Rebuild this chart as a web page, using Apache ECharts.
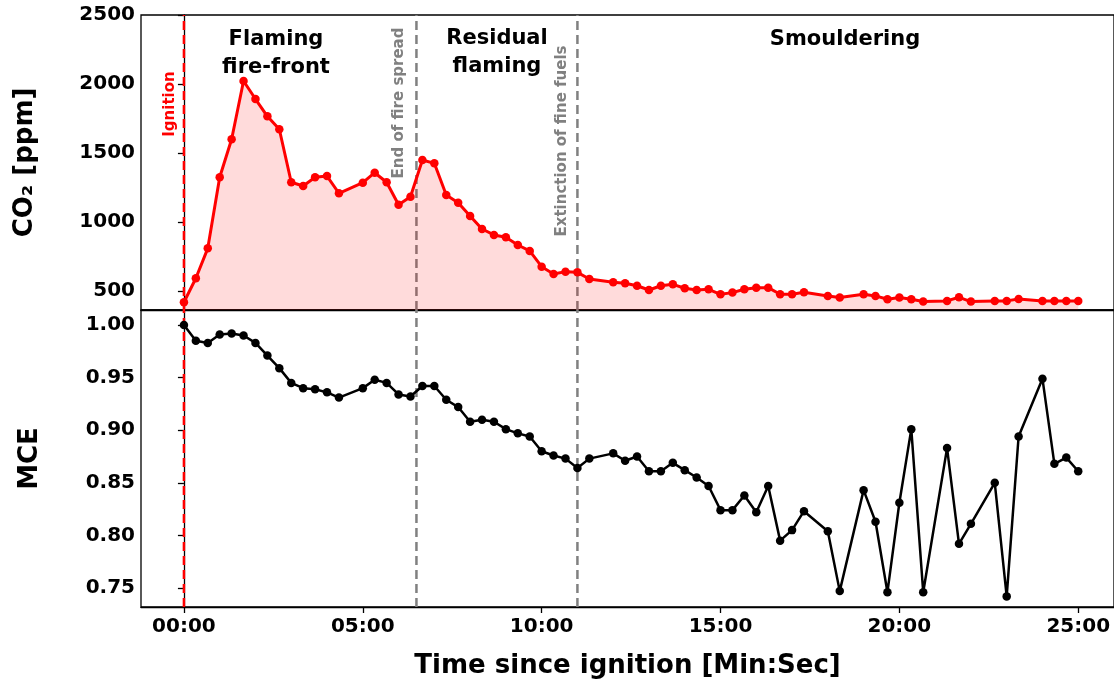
<!DOCTYPE html>
<html>
<head>
<meta charset="utf-8">
<script src="https://cdn.jsdelivr.net/npm/echarts@6/dist/echarts.min.js"></script>
<style>
html, body { margin: 0; padding: 0; background: #fff; }
#chart { width: 1114px; height: 680px; }
</style>
</head>
<body>
<div id="chart"></div>
<script>
// time since ignition, seconds
var timeSec = [0, 20, 40, 60, 80, 100, 120, 140, 160, 180, 200, 220, 240, 260, 300, 320, 340, 360, 380, 400,
    420, 440, 460, 480, 500, 520, 540, 560, 580, 600, 620, 640, 660, 680, 720, 740, 760, 780, 800, 820,
    840, 860, 880, 900, 920, 940, 960, 980, 1000, 1020, 1040, 1080, 1100, 1140, 1160, 1180, 1200, 1220, 1240, 1280,
    1300, 1320, 1360, 1380, 1400, 1440, 1460, 1480, 1500];
var co2 = [418, 592, 809, 1324, 1599, 2022, 1891, 1766, 1672, 1288, 1261, 1324, 1333, 1208, 1285, 1357, 1288, 1125, 1183, 1449,
    1425, 1196, 1140, 1043, 949, 906, 889, 833, 790, 676, 623, 640, 635, 587, 563, 556, 538, 507, 538, 548,
    520, 507, 512, 476, 488, 512, 524, 524, 476, 476, 490, 464, 452, 476, 464, 440, 452, 440, 423, 428,
    454, 423, 428, 428, 442, 428, 428, 428, 428];
var mce = [1.000, 0.985, 0.983, 0.991, 0.992, 0.990, 0.983, 0.971, 0.959, 0.945, 0.940, 0.939, 0.936, 0.931, 0.940, 0.948, 0.945, 0.934, 0.932, 0.942,
    0.942, 0.929, 0.922, 0.908, 0.910, 0.908, 0.901, 0.897, 0.894, 0.880, 0.876, 0.873, 0.864, 0.873, 0.878, 0.871, 0.875, 0.861, 0.861, 0.869,
    0.862, 0.855, 0.847, 0.824, 0.824, 0.838, 0.822, 0.847, 0.795, 0.805, 0.823, 0.804, 0.747, 0.843, 0.813, 0.746, 0.831, 0.901, 0.746, 0.883,
    0.792, 0.811, 0.850, 0.742, 0.894, 0.949, 0.868, 0.874, 0.861];
var xTicks = [0, 300, 600, 900, 1200, 1500];
var co2Ticks = [500, 1000, 1500, 2000, 2500];
var mceTicks = [0.75, 0.80, 0.85, 0.90, 0.95, 1.00];
// phase markers (seconds): ignition, end of fire spread, extinction of fine fuels
var markerT = [0, 390, 660];
var markerColor = ["#ff0000", "#808080", "#808080"];

var co2Range = [362, 2500];
var mceRange = [0.7319, 1.0143];

var font = "DejaVu Sans";
var myChart = echarts.init(document.getElementById("chart"));

function mmss(v) {
    var m = Math.floor(v / 60), s = Math.round(v - m * 60);
    return (m < 10 ? "0" : "") + m + ":" + (s < 10 ? "0" : "") + s;
}

function pairs(ys) {
    return timeSec.map(function (t, i) { return [t, ys[i]]; });
}

// vertical dashed lines as 2-point series in each panel
function vSeries(gi, range) {
    return markerT.map(function (t, i) {
        return {
            type: "line", xAxisIndex: gi, yAxisIndex: gi, silent: true, z: 1,
            data: [[t, range[0]], [t, range[1]]],
            symbol: "none",
            lineStyle: { color: markerColor[i], width: 2.5, type: [9, 5] }
        };
    });
}

var tickLabel = { color: "#000", fontFamily: font, fontWeight: "bold", fontSize: 20 };

function txt(x, y, s, opt) {
    return {
        type: "text", x: x, y: y, rotation: opt.rot || 0, z: 100,
        style: {
            text: s, fill: opt.color || "#000", font: "bold " + opt.size + "px " + font,
            textAlign: "center", textVerticalAlign: "middle", lineHeight: opt.lh || opt.size
        }
    };
}

var option = {
    animation: false,
    backgroundColor: "#fff",
    grid: [
        { left: 141, right: -2, top: 15, height: 295, show: true, borderColor: "#000", borderWidth: 1.3 },
        { left: 141, right: -2, top: 310, bottom: 73, show: true, borderColor: "#000", borderWidth: 1.3 }
    ],
    xAxis: [
        {
            gridIndex: 0, type: "value", min: -72, max: 1560,
            axisLine: { show: true, lineStyle: { color: "#000", width: 1.3 } },
            axisTick: { show: false }, axisLabel: { show: false }, splitLine: { show: false }
        },
        {
            gridIndex: 1, type: "value", min: -72, max: 1560,
            name: "Time since ignition [Min:Sec]", nameLocation: "middle", nameGap: 46,
            nameTextStyle: { color: "#000", fontFamily: font, fontWeight: "bold", fontSize: 26 },
            axisLine: { show: true, lineStyle: { color: "#000", width: 1.3 } },
            axisTick: { show: true, length: 6, customValues: xTicks, lineStyle: { color: "#000", width: 1.3 } },
            axisLabel: Object.assign({ customValues: xTicks, margin: 10, formatter: mmss }, tickLabel),
            splitLine: { show: false }
        }
    ],
    yAxis: [
        {
            gridIndex: 0, type: "value", min: co2Range[0], max: co2Range[1],
            name: "CO\u2082 [ppm]", nameLocation: "middle", nameGap: 103, nameRotate: 90,
            nameTextStyle: { color: "#000", fontFamily: font, fontWeight: "bold", fontSize: 26 },
            axisLine: { show: true, lineStyle: { color: "#000", width: 1.3 } },
            axisTick: { show: true, length: 6, customValues: co2Ticks, lineStyle: { color: "#000", width: 1.3 } },
            axisLabel: Object.assign({ customValues: co2Ticks, margin: 6, formatter: function (v) { return String(v); } }, tickLabel),
            splitLine: { show: false }
        },
        {
            gridIndex: 1, type: "value", min: mceRange[0], max: mceRange[1],
            name: "MCE", nameLocation: "middle", nameGap: 98, nameRotate: 90,
            nameTextStyle: { color: "#000", fontFamily: font, fontWeight: "bold", fontSize: 26 },
            axisLine: { show: true, lineStyle: { color: "#000", width: 1.3 } },
            axisTick: { show: true, length: 6, customValues: mceTicks, lineStyle: { color: "#000", width: 1.3 } },
            axisLabel: Object.assign({ customValues: mceTicks, margin: 6, formatter: function (v) { return v.toFixed(2); } }, tickLabel),
            splitLine: { show: false }
        }
    ],
    series: [
        {
            name: "CO2", type: "line", xAxisIndex: 0, yAxisIndex: 0, z: 2,
            data: pairs(co2),
            symbol: "circle", symbolSize: 8.5, showAllSymbol: true,
            lineStyle: { color: "#ff0000", width: 3 },
            itemStyle: { color: "#ff0000" },
            areaStyle: { color: "rgba(255,0,0,0.2)", origin: "start" }
        },
        {
            name: "MCE", type: "line", xAxisIndex: 1, yAxisIndex: 1, z: 2,
            data: pairs(mce),
            symbol: "circle", symbolSize: 8.5, showAllSymbol: true,
            lineStyle: { color: "#000", width: 2.5 },
            itemStyle: { color: "#000" }
        }
    ].concat(vSeries(0, co2Range), vSeries(1, mceRange)),
    graphic: [
        txt(170, 104, "Ignition", { rot: Math.PI / 2, size: 15, color: "#ff0000" }),
        txt(399, 103, "End of fire spread", { rot: Math.PI / 2, size: 15, color: "#808080" }),
        txt(562, 141, "Extinction of fine fuels", { rot: Math.PI / 2, size: 15, color: "#808080" }),
        txt(276, 54, "Flaming\nfire-front", { size: 21, lh: 28 }),
        txt(497, 53, "Residual\nflaming", { size: 21, lh: 28 }),
        txt(845, 40, "Smouldering", { size: 21 })
    ]
};
myChart.setOption(option);
</script>
</body>
</html>
